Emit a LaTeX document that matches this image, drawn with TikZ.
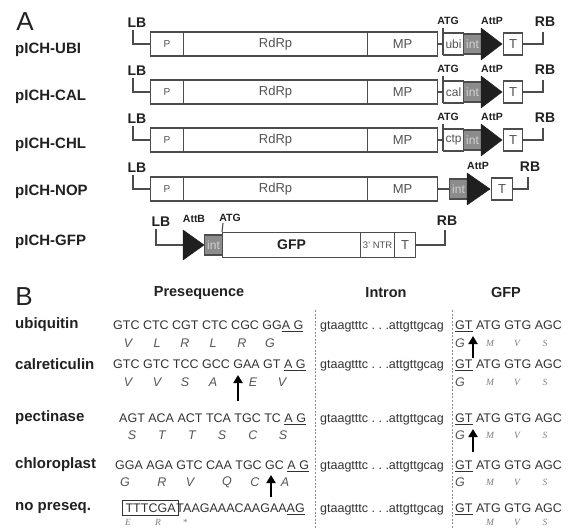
\documentclass[tikz,border=0pt]{standalone}
\usepackage{fontspec}
\setmainfont{Liberation Sans}
\newfontfamily\serfont{Liberation Serif}
\usetikzlibrary{arrows.meta}
\definecolor{ink}{gray}{0.13}
\definecolor{boxline}{gray}{0.3}
\definecolor{boxtxt}{gray}{0.32}
\definecolor{intfill}{gray}{0.55}
\definecolor{inttxt}{gray}{0.82}
\definecolor{tricol}{gray}{0.12}
\definecolor{seqcol}{gray}{0.2}
\definecolor{aacol}{gray}{0.33}
\definecolor{aasm}{gray}{0.5}
\definecolor{dashc}{gray}{0.55}
\newcommand{\fs}[1]{\fontsize{#1}{#1}\selectfont}
\frenchspacing
\setlength{\fboxsep}{2.5pt}
\setlength{\fboxrule}{0.9pt}
\begin{document}
\begin{tikzpicture}[x=1pt,y=-1pt,
  plabel/.style={anchor=west, inner sep=0pt, font=\fs{15}\bfseries, text=ink},
  panel/.style={inner sep=0pt, font=\fs{26}, text=ink},
  seg/.style={draw=boxline, line width=1.1pt, minimum height=24pt, inner sep=0pt, anchor=west, font=\fs{13}, text=boxtxt},
  sm/.style={draw=boxline, line width=1.1pt, minimum height=22pt, inner sep=0pt, anchor=west, font=\fs{12}, text=boxtxt},
  intb/.style={sm, fill=intfill, minimum height=20pt, text=inttxt},
  border/.style={inner sep=0pt, font=\fs{14}\bfseries, text=ink},
  site/.style={inner sep=0pt, font=\fs{10.5}\bfseries, text=ink},
  wire/.style={draw=boxline, line width=1.1pt},
  tri/.style={fill=tricol, draw=tricol, line width=0.5pt, line join=round},
  hdr/.style={inner sep=0pt, font=\fs{14.5}\bfseries, text=ink},
  sq/.style={anchor=base west, inner sep=0pt, font=\fs{12.5}, text=seqcol},
  aa/.style={inner sep=0pt, font=\fs{12.5}\itshape, text=aacol},
  aas/.style={inner sep=0pt, font=\serfont\fs{9.5}\itshape, text=aasm},
  dashline/.style={draw=dashc, line width=0.8pt, dash pattern=on 2pt off 1.6pt},
  uparrow/.style={draw=black, line width=2.6pt, -{Triangle[width=9pt,length=8pt]}}
]
\clip (0,0) rectangle (570,529);
\fill[white] (0,0) rectangle (570,529);

% ---------------- Panel A ----------------
\node[panel] (pA) at (25,22) {A};
\node[plabel] (n1) at (15,50) {pICH-UBI};
\node[plabel] (n2) at (15,97) {pICH-CAL};
\node[plabel] (n3) at (15,145) {pICH-CHL};
\node[plabel] (n4) at (15,192) {pICH-NOP};
\node[plabel] (n5) at (15,242) {pICH-GFP};

\foreach \i/\y/\g in {1/44/ubi, 2/92/cal, 3/140/ctp} {
  \node[seg, minimum width=33pt, font=\fs{10}] (p\i) at (150,\y) {P};
  \node[seg, minimum width=184pt] (rd\i) at (183,\y) {RdRp};
  \node[seg, minimum width=70pt] (mp\i) at (367,\y) {MP};
  \coordinate (atgt\i) at (443,\y-16);
  \coordinate (atgb\i) at (443,\y+11);
  \coordinate (atgm\i) at (443,\y);
  \draw[wire] (atgt\i) -- (atgb\i);
  \draw[wire] (mp\i.east) -- (atgm\i);
  \node[sm, minimum width=20pt] (g\i) at (443,\y) {\g};
  \node[intb, minimum width=18pt] (int\i) at (463,\y) {int};
  \path[tri] (481,\y-16) -- (502,\y) -- (481,\y+16) -- cycle;
  \node[sm, minimum width=19pt, font=\fs{13}] (t\i) at (503,\y) {T};
  \coordinate (rb\i) at (543,\y-12);
  \draw[wire] (t\i.east) -| (rb\i);
  \node[border] (rbl\i) at (545,\y-22) {RB};
  \node[site] (atgl\i) at (448,\y-23) {ATG};
  \node[site] (attp\i) at (492,\y-23) {AttP};
  \node[border] (lbl\i) at (137,\y-21) {LB};
  \coordinate (lb\i) at (133,\y-14);
  \draw[wire] (lb\i) |- (p\i.west);
}

% row 4 (NOP)
\node[seg, minimum width=33pt, font=\fs{10}] (p4) at (150,189) {P};
\node[seg, minimum width=184pt] (rd4) at (183,189) {RdRp};
\node[seg, minimum width=70pt] (mp4) at (367,189) {MP};
\node[intb, minimum width=18pt] (int4) at (449,189) {int};
\draw[wire] (mp4.east) -- (int4.west);
\path[tri] (467,173) -- (490,189) -- (467,205) -- cycle;
\node[sm, minimum width=21pt, font=\fs{13}] (t4) at (491,189) {T};
\coordinate (rb4) at (528,177);
\draw[wire] (t4.east) -| (rb4);
\node[border] (rbl4) at (530,167) {RB};
\node[site] (attp4) at (478,166) {AttP};
\node[border] (lbl4) at (137,168) {LB};
\coordinate (lb4) at (133,175);
\draw[wire] (lb4) |- (p4.west);

% row 5 (GFP)
\node[border] (lbl5) at (161,222) {LB};
\coordinate (lb5) at (156,229);
\coordinate (tb5) at (183,245);
\draw[wire] (lb5) |- (tb5);
\path[tri] (183,230) -- (204,245) -- (183,260) -- cycle;
\node[intb, minimum width=18pt] (int5) at (204,245) {int};
\node[seg, minimum width=138pt, minimum height=25pt, font=\fs{14}\bfseries, text=ink] (gfp5) at (222,245) {GFP};
\node[seg, minimum width=34pt, minimum height=25pt, font=\fs{9.5}] (ntr5) at (360,245) {3' NTR};
\node[seg, minimum width=21pt, minimum height=25pt, font=\fs{13}] (t5) at (394,245) {T};
\coordinate (rb5) at (445,230);
\draw[wire] (t5.east) -| (rb5);
\node[border] (rbl5) at (447,221) {RB};
\coordinate (atg5) at (223,223);
\draw[wire] (atg5) -- (gfp5.north west);
\node[site] (atgl5) at (230,218) {ATG};
\node[site] (attb5) at (194,219) {AttB};

% ---------------- Panel B ----------------
\node[panel] (pB) at (24,297) {B};
\node[hdr] (hpre) at (199,293) {Presequence};
\node[hdr] (hint) at (386,293) {Intron};
\node[hdr] (hgfp) at (506,293) {GFP};

\coordinate (d1a) at (315,310); \coordinate (d1b) at (315,529);
\coordinate (d2a) at (452,310); \coordinate (d2b) at (452,529);
\draw[dashline] (d1a) -- (d1b);
\draw[dashline] (d2a) -- (d2b);

\node[plabel] (lub) at (15,325) {ubiquitin};
\node[plabel] (lcal) at (15,364) {calreticulin};
\node[plabel] (lpec) at (15,418) {pectinase};
\node[plabel] (lchl) at (15,465) {chloroplast};
\node[plabel] (lno) at (15,508) {no preseq.};

% sequences
\node[sq] (s1) at (113,329.5) {GTC CTC CGT CTC CGC GG\underline{A G}};
\node[sq] (s2) at (113,368.5) {GTC GTC TCC GCC GAA GT \underline{A G}};
\node[sq] (s3) at (119,422.5) {AGT ACA ACT TCA TGC TC \underline{A G}};
\node[sq] (s4) at (115,469.5) {GGA AGA GTC CAA TGC GC \underline{A G}};
\node[sq] (s5) at (122,512.5) {\fbox{TTTCGA}\hspace{-2.5pt}TAAGAAACAAGAA\underline{AG}};

\foreach \r/\y in {1/329.5, 2/368.5, 3/422.5, 4/469.5, 5/512.5} {
  \node[sq] (in\r) at (320,\y) {gtaagtttc . . .attgttgcag};
  \node[sq] (gf\r) at (455,\y) {\underline{GT} ATG GTG AGC};
}

% amino acids
\foreach \x/\l [count=\k] in {128/V,157/L,185/R,213/L,242/R,270/G}
  \node[aa] (a1-\k) at (\x,343) {\l};
\foreach \x/\l [count=\k] in {128/V,157/V,185/S,213/A,253/E,282/V}
  \node[aa] (a2-\k) at (\x,382) {\l};
\foreach \x/\l [count=\k] in {132/S,162/T,192/T,222/S,253/C,283/S}
  \node[aa] (a3-\k) at (\x,435) {\l};
\foreach \x/\l [count=\k] in {125/G,162/R,190/V,227/Q,255/C,285/A}
  \node[aa] (a4-\k) at (\x,482) {\l};
\foreach \x/\l [count=\k] in {128/E,158/R,185/*}
  \node[aas] (a5-\k) at (\x,522.5) {\l};

\foreach \r/\y in {1/343, 2/382, 3/435, 4/482} {
  \node[aa] (ag\r) at (460,\y) {G};
}
\foreach \r/\y in {1/343, 2/382, 3/435, 4/482, 5/522.5} {
  \node[aas] (am\r) at (490,\y) {M};
  \node[aas] (av\r) at (517,\y) {V};
  \node[aas] (as\r) at (545,\y) {S};
}

% arrows
\coordinate (u1a) at (473,358); \coordinate (u1b) at (473,336);
\coordinate (u2a) at (238,401); \coordinate (u2b) at (238,375);
\coordinate (u3a) at (473,452); \coordinate (u3b) at (473,429);
\coordinate (u4a) at (271,497); \coordinate (u4b) at (271,475);
\draw[uparrow] (u1a) -- (u1b);
\draw[uparrow] (u2a) -- (u2b);
\draw[uparrow] (u3a) -- (u3b);
\draw[uparrow] (u4a) -- (u4b);
\end{tikzpicture}
\end{document}
